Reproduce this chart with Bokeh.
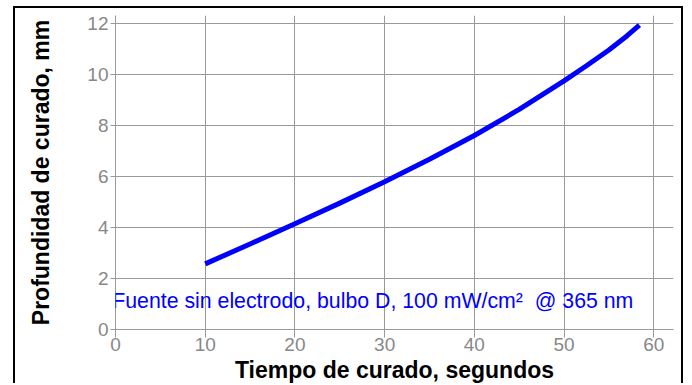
from bokeh.plotting import figure
from bokeh.models import Range1d, Label, FixedTicker
from bokeh.embed import file_html
from bokeh.resources import INLINE

# data
tiempo = [10, 15, 20, 25, 30, 35, 40, 45, 50, 52.5, 55, 57, 58.4]
profundidad = [2.57, 3.35, 4.14, 4.95, 5.79, 6.67, 7.60, 8.62, 9.74, 10.33, 10.95, 11.50, 11.92]
x_ticks = [0, 10, 20, 30, 40, 50, 60]
y_ticks = [0, 2, 4, 6, 8, 10, 12]
x_titulo = "Tiempo de curado, segundos"
y_titulo = "Profundidad de curado, mm"
nota = "Fuente sin electrodo, bulbo D, 100 mW/cm\u00b2\u00a0 @ 365 nm"

GRAY = "#888888"
GRID = "#999999"

p = figure(width=670, height=377, output_backend="svg", toolbar_location=None,
           x_range=Range1d(0, 62.2), y_range=Range1d(0, 12.3),
           min_border_left=100, min_border_right=12, min_border_top=7, min_border_bottom=55,
           styles={"margin-left": "13px", "margin-top": "6px",
                   "border-top": "2px solid black",
                   "border-left": "2px solid black", "border-right": "2px solid black"})
p.outline_line_color = None
p.background_fill_color = "white"
p.border_fill_color = "white"

for ax in (p.xaxis[0], p.yaxis[0]):
    ax.axis_line_color = GRID
    ax.major_tick_line_color = GRID
    ax.minor_tick_line_color = None
    ax.major_tick_out = 5
    ax.major_tick_in = 0
    ax.major_label_text_color = GRAY
    ax.major_label_text_font = "Liberation Sans"
    ax.major_label_text_font_size = "19px"
    ax.axis_label_text_font = "Liberation Sans"
    ax.axis_label_text_font_style = "bold"
    ax.axis_label_text_font_size = "23px"
    ax.axis_label_text_color = "black"
    ax.major_label_standoff = 2
p.xaxis.major_tick_out = 8
p.xaxis.major_label_standoff = 0
p.xaxis.major_label_text_line_height = 1.0
p.xaxis.axis_label_text_line_height = 0.9

p.xaxis.ticker = FixedTicker(ticks=x_ticks)
p.yaxis.ticker = FixedTicker(ticks=y_ticks)
p.xaxis.axis_label = x_titulo
p.yaxis.axis_label = y_titulo
p.xaxis.axis_label_standoff = 3
p.yaxis.axis_label_standoff = 30

p.grid.grid_line_color = GRID
p.grid.grid_line_width = 1
p.xgrid.ticker = FixedTicker(ticks=x_ticks)
p.ygrid.ticker = FixedTicker(ticks=y_ticks)

p.line(tiempo, profundidad, line_color="#0000ff", line_width=5, line_join="round")

p.add_layout(Label(x=-0.37, y=1.1, text=nota, text_color="#0000ff",
                   text_font="Liberation Sans", text_font_size="21.3px",
                   text_baseline="alphabetic"))

open("out.html", "w").write(file_html(p, INLINE))
